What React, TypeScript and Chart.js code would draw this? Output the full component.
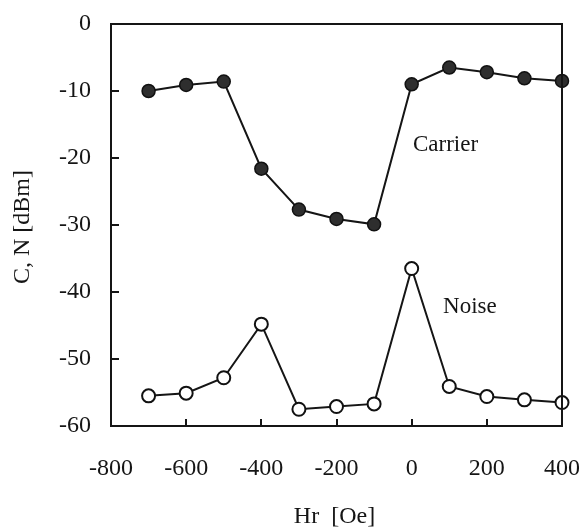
import React, { useEffect, useRef } from "react";
import { Chart, registerables } from "chart.js";

Chart.register(...registerables);

// ---- data ----
const hrValues = [-700, -600, -500, -400, -300, -200, -100, 0, 100, 200, 300, 400];
const carrierValues = [-10.0, -9.1, -8.6, -21.6, -27.7, -29.1, -29.9, -9.0, -6.5, -7.2, -8.1, -8.5];
const noiseValues = [-55.5, -55.1, -52.8, -44.8, -57.5, -57.1, -56.7, -36.5, -54.1, -55.6, -56.1, -56.5];
const xTickValues = [-800, -600, -400, -200, 0, 200, 400];
const yTickValues = [0, -10, -20, -30, -40, -50, -60];
const seriesNames = ["Carrier", "Noise"];
const xTitle = "Hr  [Oe]";
const yTitle = "C, N [dBm]";

// annotation anchors (data coordinates)
const carrierLabelAt = { x: 90, y: -18 };
const noiseLabelAt = { x: 155, y: -42.2 };

const FONT = '"Liberation Serif", "Times New Roman", serif';
const INK = "#151515";

const zeroPad = (s: any) => {
  s.paddingLeft = 0;
  s.paddingRight = 0;
  s.paddingTop = 0;
  s.paddingBottom = 0;
};

export default function App() {
  const ref = useRef<HTMLCanvasElement | null>(null);

  useEffect(() => {
    if (!ref.current) return;

    const decor = {
      id: "decor",
      afterDatasetsDraw(chart: any) {
        const { ctx, chartArea, scales } = chart;
        ctx.save();
        // frame
        ctx.strokeStyle = INK;
        ctx.lineWidth = 2;
        ctx.strokeRect(chartArea.left, chartArea.top, chartArea.right - chartArea.left, chartArea.bottom - chartArea.top);
        // series labels
        ctx.fillStyle = INK;
        ctx.font = `23px ${FONT}`;
        ctx.textAlign = "center";
        ctx.textBaseline = "middle";
        ctx.fillText(seriesNames[0], scales.x.getPixelForValue(carrierLabelAt.x), scales.y.getPixelForValue(carrierLabelAt.y));
        ctx.fillText(seriesNames[1], scales.x.getPixelForValue(noiseLabelAt.x), scales.y.getPixelForValue(noiseLabelAt.y));
        // axis titles
        ctx.font = `24px ${FONT}`;
        const cx = (chartArea.left + chartArea.right) / 2;
        ctx.fillText(xTitle, cx - 2, 517);
        ctx.translate(23, (chartArea.top + chartArea.bottom) / 2 + 2);
        ctx.rotate(-Math.PI / 2);
        ctx.fillText(yTitle, 0, 0);
        ctx.restore();
      },
    };

    const chart = new Chart(ref.current, {
      type: "line",
      data: {
        datasets: [
          {
            label: seriesNames[0],
            data: hrValues.map((x, i) => ({ x, y: carrierValues[i] })),
            borderColor: INK,
            borderWidth: 2,
            pointRadius: 6.5,
            pointBackgroundColor: "#2e2e2e",
            pointBorderColor: "#111",
            pointBorderWidth: 1.5,
            clip: false as any,
          },
          {
            label: seriesNames[1],
            data: hrValues.map((x, i) => ({ x, y: noiseValues[i] })),
            borderColor: INK,
            borderWidth: 2,
            pointRadius: 6.5,
            pointBackgroundColor: "#ffffff",
            pointBorderColor: "#111",
            pointBorderWidth: 2,
            clip: false as any,
          },
        ],
      },
      options: {
        animation: false,
        responsive: false,
        maintainAspectRatio: false,
        layout: { autoPadding: false, padding: { top: 24, right: 17, left: 0, bottom: 0 } },
        plugins: { legend: { display: false }, tooltip: { enabled: false } },
        scales: {
          x: {
            type: "linear",
            min: -800,
            max: 400,
            afterBuildTicks: (s: any) => {
              s.ticks = xTickValues.map((v) => ({ value: v }));
            },
            afterFit: (s: any) => {
              s.height = 105;
              zeroPad(s);
            },
            grid: { drawOnChartArea: false, drawTicks: true, tickLength: -7, color: INK, lineWidth: 2 },
            border: { display: true, color: INK, width: 2 },
            ticks: { color: INK, font: { family: FONT, size: 24 }, padding: 35, maxRotation: 0, autoSkip: false },
          },
          y: {
            type: "linear",
            min: -60,
            max: 0,
            afterBuildTicks: (s: any) => {
              s.ticks = yTickValues.map((v) => ({ value: v }));
            },
            afterFit: (s: any) => {
              s.width = 111;
              zeroPad(s);
            },
            grid: { drawOnChartArea: false, drawTicks: true, tickLength: -8, color: INK, lineWidth: 2 },
            border: { display: true, color: INK, width: 2 },
            ticks: { color: INK, font: { family: FONT, size: 24 }, padding: 28, autoSkip: false },
          },
        },
      },
      plugins: [decor],
    });

    return () => chart.destroy();
  }, []);

  return (
    <div style={{ position: "fixed", left: 0, top: 0, width: 579, height: 531, background: "#fff" }}>
      <canvas ref={ref} width={579} height={531} style={{ width: 579, height: 531, display: "block" }} />
    </div>
  );
}
